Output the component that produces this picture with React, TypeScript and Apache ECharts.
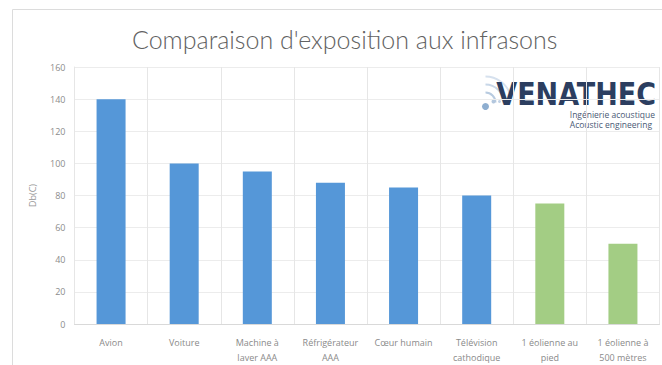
import React, { useEffect, useRef } from "react";
import * as echarts from "echarts";

const categories = [
  "Avion",
  "Voiture",
  "Machine à\nlaver AAA",
  "Réfrigérateur\nAAA",
  "Cœur humain",
  "Télévision\ncathodique",
  "1 éolienne au\npied",
  "1 éolienne à\n500 mètres",
];
const values = [140, 100, 95, 88, 85, 80, 75, 50];
// source kind per bar: everyday sources vs. wind turbines
const kinds = ["usuel", "usuel", "usuel", "usuel", "usuel", "usuel", "eolien", "eolien"];
const yTicks = { min: 0, max: 160, interval: 20 };

const BLUE = "#5597d8";
const GREEN = "#a3cd84";

export default function App() {
  const ref = useRef<HTMLDivElement>(null);

  useEffect(() => {
    if (!ref.current) return;
    const chart = echarts.init(ref.current, undefined, { renderer: "svg" });
    chart.setOption({
      animation: false,
      backgroundColor: "#ffffff",
      title: {
        text: "Comparaison d'exposition aux infrasons",
        left: 127,
        top: 21,
        textStyle: {
          fontFamily: "Lato",
          fontWeight: 300,
          fontSize: 25,
          color: "#626262",
        },
      },
      grid: { left: 74.5, right: 2.5, top: 67, bottom: 40 },
      xAxis: {
        type: "category",
        data: categories,
        axisTick: { show: false },
        axisLine: { lineStyle: { color: "#d9d9d9" } },
        splitLine: { show: true, lineStyle: { color: "#e6e6e6" } },
        axisLabel: {
          fontSize: 9,
          color: "#8a8a8a",
          fontFamily: "Open Sans",
          lineHeight: 15,
          margin: 11,
          interval: 0,
        },
      },
      yAxis: {
        type: "value",
        min: yTicks.min,
        max: yTicks.max,
        interval: yTicks.interval,
        name: "Db(C)",
        nameLocation: "middle",
        nameRotate: 90,
        nameGap: 38,
        nameTextStyle: { fontSize: 9, color: "#959595", fontFamily: "Open Sans" },
        axisLine: { show: true, lineStyle: { color: "#e6e6e6" } },
        axisTick: { show: false },
        axisLabel: { fontSize: 9, color: "#8c8c8c", fontFamily: "Open Sans", margin: 9 },
        splitLine: { lineStyle: { color: "#ececec" } },
      },
      series: [
        {
          type: "bar",
          barWidth: 29,
          data: values.map((v, i) => ({
            value: v,
            itemStyle: { color: kinds[i] === "eolien" ? GREEN : BLUE },
          })),
        },
      ],
      graphic: [
        // outer frame of the chart area
        {
          type: "rect",
          shape: { x: 12.5, y: 9.5, width: 700, height: 400 },
          style: { fill: "none", stroke: "#dcdcdc", lineWidth: 1 },
          silent: true,
          z: -1,
        },
        // logo: sound-wave mark
        {
          type: "group",
          left: 482,
          top: 74,
          children: [
            { type: "arc", shape: { cx: 8, cy: 32, r: 10, startAngle: -Math.PI * 0.5, endAngle: 0 }, style: { stroke: "#b8cbe0", lineWidth: 2, fill: "none" } },
            { type: "arc", shape: { cx: 8, cy: 32, r: 18, startAngle: -Math.PI * 0.5, endAngle: 0 }, style: { stroke: "#c8d7e8", lineWidth: 2, fill: "none" } },
            { type: "arc", shape: { cx: 8, cy: 32, r: 26, startAngle: -Math.PI * 0.5, endAngle: -Math.PI * 0.1 }, style: { stroke: "#d6e1ee", lineWidth: 2, fill: "none" } },
            { type: "circle", shape: { cx: 8, cy: 36, r: 3.5 }, style: { fill: "#8eaed0" } },
            { type: "circle", shape: { cx: 16, cy: 31, r: 2 }, style: { fill: "#b3c7de" } },
            { type: "circle", shape: { cx: 22, cy: 31, r: 1.5 }, style: { fill: "#c2d2e5" } },
          ],
        },
        {
          type: "text",
          right: 6,
          top: 77,
          scaleY: 1.08,
          style: {
            text: "VENATHEC",
            fontFamily: "DejaVu Sans Condensed",
            fontWeight: "bold",
            fontSize: 30,
            fill: "#2c3e60",
          },
        },
        {
          type: "text",
          right: 7,
          top: 109,
          style: {
            text: "Ingénierie acoustique\nAcoustic engineering",
            fontFamily: "Open Sans",
            fontSize: 8.5,
            lineHeight: 10,
            align: "right",
            fill: "#4a5a75",
          },
        },
      ],
    });
    return () => chart.dispose();
  }, []);

  return (
    <div
      ref={ref}
      style={{ position: "fixed", left: 0, top: 0, width: 662, height: 365 }}
    />
  );
}
